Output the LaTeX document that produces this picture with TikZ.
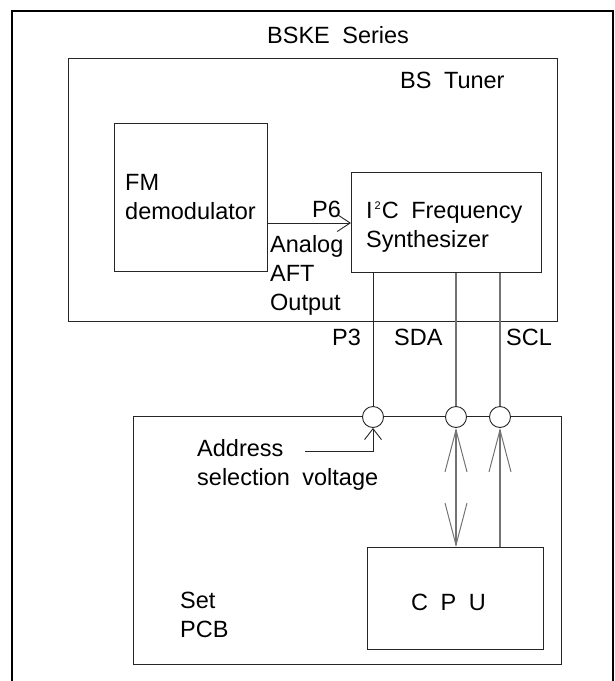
\documentclass[tikz,border=0pt]{standalone}
\usepackage{fontspec}
\setmainfont{Liberation Sans}
\usetikzlibrary{arrows.meta,positioning}
\newcommand{\lblfont}{\fontsize{23.5}{29}\selectfont\spaceskip=12.5pt plus 2pt minus 1pt\relax}
\newcommand{\smalltwo}{\kern2pt\raisebox{8.5pt}{\fontsize{11}{11}\selectfont 2}\kern1pt}

\begin{document}
\begin{tikzpicture}[
  x=1pt,y=-1pt,
  lbl/.style={inner sep=0pt,anchor=base west,align=left,font=\lblfont},
  blk/.style={draw=black!85,line width=0.9pt,inner sep=0pt,anchor=north west},
  pin/.style={circle,draw=black!85,fill=white,line width=0.9pt,
    minimum size=21pt,inner sep=0pt},
  sig/.style={draw=black!85,line width=0.9pt},
  bus/.style={draw=black!55,line width=1.1pt},
]
  \clip (0,0) rectangle (615,681);
  % outer frame, open at the bottom
  \draw[line width=2.4pt] (12,700) |- (613,11) -- (613,700);
  \node[lbl] (series) at (267,43) {BSKE Series};
  % tuner module
  \node[blk,minimum width=489pt,minimum height=263pt] (tuner) at (68,58) {};
  \node[lbl] (tunerlbl) at (400,88) {BS Tuner};
  \node[blk,minimum width=153pt,minimum height=148pt] (fm) at (114,123) {};
  \node[lbl] (fmlbl) at (125,219) {FM\\demodulator};
  \node[blk,minimum width=190pt,minimum height=100pt] (synth) at (351,172) {};
  \node[lbl] (synthlbl) at (366,247) {I\smalltwo C Frequency\\Synthesizer};
  \node[lbl] (p6) at (312,217) {P6};
  \node[lbl] (aft) at (270,310) {Analog\\AFT\\Output};
  % set board
  \node[blk,minimum width=428pt,minimum height=248pt] (pcb) at (133,416) {};
  \node[lbl] (pcblbl) at (180,637) {Set\\PCB};
  \node[blk,minimum width=176pt,minimum height=102pt] (cpu) at (367,547) {};
  \node[lbl] (cpulbl) at (411,610) {C P U};
  \node[pin] (pa) at (373,417) {};
  \node[pin] (pd) at (456,417) {};
  \node[pin] (pc) at (500,417) {};
  \node[lbl] (p3) at (332,345) {P3};
  \node[lbl] (sda) at (394,345) {SDA};
  \node[lbl] (scl) at (506,345) {SCL};
  \node[lbl] (addrlbl) at (197,485) {Address\\selection voltage};
  \coordinate (fmout) at (267,223);
  \coordinate (addr) at (305,451);
  % connections
  \draw[sig,-{Straight Barb[length=13pt,width=17pt,line width=0.9pt]}]
    (fmout) -- (fmout -| synth.west);
  \draw[sig] (synth.south -| pa) -- (pa.north);
  \draw[bus] (synth.south -| pd) -- (pd.north);
  \draw[bus] (synth.south -| pc) -- (pc.north);
  \draw[sig,-{Straight Barb[length=11pt,width=17pt,line width=0.9pt]}]
    (addr) -| (pa.south);
  \draw[bus,{Straight Barb[length=42pt,width=22pt,line width=1pt]}-{Straight Barb[length=42pt,width=22pt,line width=1pt]}]
    (pd.south) -- (pd.south |- cpu.north);
  \draw[bus,-{Straight Barb[length=42pt,width=22pt,line width=1pt]}]
    (pc.south |- cpu.north) -- (pc.south);
\end{tikzpicture}
\end{document}
